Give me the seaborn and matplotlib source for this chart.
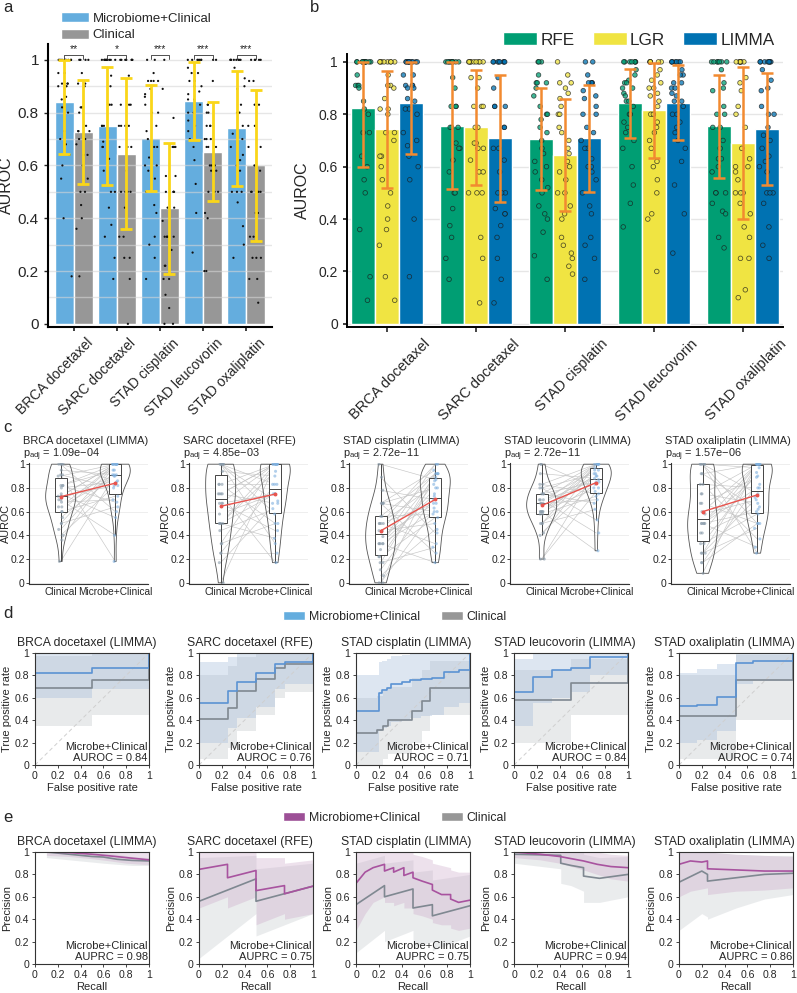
import numpy as np
import pandas as pd
import matplotlib
matplotlib.use("Agg")
import matplotlib.pyplot as plt
import seaborn as sns
from matplotlib.patches import Patch
from matplotlib.ticker import FuncFormatter
from matplotlib.transforms import ScaledTranslation

sns.set_theme(style="ticks")
plt.rcParams['font.family'] = ['Liberation Sans', 'DejaVu Sans']
plt.rcParams['mathtext.fontset'] = 'custom'
plt.rcParams['mathtext.rm'] = 'Liberation Sans'
plt.rcParams['mathtext.it'] = 'Liberation Sans:italic'
np.random.seed(3)

# ------------------------------------------------------------------ data
DRUGS = ["BRCA docetaxel", "SARC docetaxel", "STAD cisplatin", "STAD leucovorin", "STAD oxaliplatin"]
MODELS = ["Microbiome+Clinical", "Clinical"]
METHODS = ["RFE", "LGR", "LIMMA"]
SELECTED = ["LIMMA", "RFE", "LIMMA", "LIMMA", "LIMMA"]
SIG_STARS = ["**", "*", "***", "***", "***"]
C_GROUPS = ["Clinical", "Microbe+Clinical"]
PANEL_TITLES = ["BRCA docetaxel (LIMMA)", "SARC docetaxel (RFE)", "STAD cisplatin (LIMMA)",
                "STAD leucovorin (LIMMA)", "STAD oxaliplatin (LIMMA)"]
P_ADJ = ["1.09e\u221204", "4.85e\u221203", "2.72e\u221211", "2.72e\u221211", "1.57e\u221206"]
AUROC_TXT = [0.84, 0.76, 0.71, 0.84, 0.74]
AUPRC_TXT = [0.98, 0.75, 0.75, 0.94, 0.86]

# panel a summaries (mean, sd)
A_MEAN_MC = [0.840, 0.748, 0.703, 0.845, 0.741]
A_SD_MC = [0.197, 0.223, 0.200, 0.148, 0.217]
A_MEAN_CL = [0.726, 0.645, 0.438, 0.652, 0.600]
A_SD_CL = [0.197, 0.285, 0.248, 0.187, 0.285]

# panel b summaries (mean, sd)
B_MEAN_RFE = [0.825, 0.757, 0.705, 0.842, 0.754]
B_SD_RFE = [0.225, 0.242, 0.195, 0.132, 0.197]
B_MEAN_LGR = [0.743, 0.750, 0.644, 0.815, 0.690]
B_SD_LGR = [0.223, 0.220, 0.214, 0.182, 0.290]
B_MEAN_LIMMA = [0.842, 0.708, 0.708, 0.844, 0.743]
B_SD_LIMMA = [0.194, 0.243, 0.203, 0.144, 0.213]

# per-run AUROC values
BRCA_CL = [0.73, 0.5, 1, 0.64, 0.82, 0.36, 0.9, 0.6, 1, 0.73, 0.45, 0.82, 0.7, 0.18, 0.95,
           0.55, 0.64, 1, 0.8, 0.4, 0.73, 0.91, 0.6, 0.68, 0.82, 0.5, 1, 0.75, 0.7, 0.91]
BRCA_RFE = [1, 1, 1, 1, 1, 1, 1, 1, 1, 1, 1, 1, 1, 0.95, 0.91, 0.91, 0.91, 0.9, 0.85, 0.82,
            0.8, 0.73, 0.73, 0.64, 0.6, 0.55, 0.5, 0.36, 0.18, 0.09]
BRCA_LGR = [1, 1, 1, 1, 1, 1, 1, 1, 0.95, 0.91, 0.91, 0.9, 0.86, 0.82, 0.82, 0.8, 0.73, 0.73,
            0.7, 0.64, 0.64, 0.6, 0.55, 0.5, 0.45, 0.4, 0.36, 0.3, 0.18, 0.09]
BRCA_LIMMA = [1, 1, 1, 1, 1, 1, 1, 1, 1, 1, 0.95, 0.95, 0.91, 0.91, 0.91, 0.9, 0.9, 0.86, 0.85,
              0.82, 0.82, 0.8, 0.73, 0.7, 0.68, 0.64, 0.6, 0.55, 0.4, 0.18]

SARC_CL = [0.75, 1, 0.5, 0.83, 0, 1, 0.67, 0.33, 1, 0.75, 0.5, 0.94, 0.25, 1, 0.83, 0.58, 0.67,
           0.5, 1, 0.17, 0.75, 0.44, 1, 0.83, 0.33, 0.67, 0.5, 1, 0.25, 0.75]
SARC_RFE = [1, 1, 1, 1, 1, 1, 1, 1, 1, 1, 0.94, 0.9, 0.83, 0.83, 0.83, 0.75, 0.75, 0.75, 0.69,
            0.67, 0.67, 0.625, 0.58, 0.5, 0.5, 0.44, 0.375, 0.33, 0.25, 0.17]
SARC_LGR = [1, 1, 1, 1, 1, 1, 1, 1, 1, 0.94, 0.94, 0.9, 0.83, 0.83, 0.83, 0.75, 0.75, 0.69, 0.69,
            0.67, 0.67, 0.625, 0.58, 0.58, 0.5, 0.5, 0.5, 0.33, 0.25, 0.08]
SARC_LIMMA = [1, 1, 1, 1, 1, 1, 1, 1, 0.94, 0.9, 0.83, 0.83, 0.83, 0.75, 0.75, 0.67, 0.67, 0.625,
              0.58, 0.5, 0.5, 0.5, 0.44, 0.42, 0.42, 0.375, 0.33, 0.25, 0.17, 0.08]

CIS_CL = [0.5, 0.33, 0.67, 0.17, 0.44, 0, 0.56, 0.33, 1, 0.22, 0.5, 0.67, 0.28, 0.33, 0.11, 0.78,
          0.5, 0.39, 0, 0.67, 0.33, 0.56, 0.22, 0.44, 0.06, 0.89, 0.5, 0.17, 0.67, 0.33]
CIS_RFE = [1, 1, 1, 0.95, 0.92, 0.92, 0.92, 0.9, 0.87, 0.83, 0.8, 0.8, 0.78, 0.75, 0.73, 0.7,
           0.67, 0.65, 0.62, 0.6, 0.58, 0.55, 0.52, 0.5, 0.45, 0.42, 0.4, 0.35, 0.26, 0.17]
CIS_LGR = [1, 0.95, 0.92, 0.92, 0.9, 0.88, 0.86, 0.83, 0.8, 0.8, 0.75, 0.73, 0.7, 0.67, 0.65,
           0.62, 0.6, 0.58, 0.55, 0.5, 0.5, 0.45, 0.42, 0.4, 0.33, 0.3, 0.27, 0.25, 0.22, 0.19]
CIS_LIMMA = [1, 1, 0.95, 0.92, 0.92, 0.92, 0.92, 0.89, 0.87, 0.86, 0.83, 0.8, 0.8, 0.75, 0.73,
             0.7, 0.67, 0.67, 0.63, 0.6, 0.6, 0.58, 0.55, 0.5, 0.45, 0.42, 0.33, 0.3, 0.25, 0.17]

LEU_CL = [0.6, 0.75, 0.5, 1, 0.67, 0.4, 0.83, 0.6, 0.2, 0.7, 0.58, 0.8, 0.6, 0.67, 0.92, 0.5,
          0.75, 0.42, 0.7, 0.6, 1, 0.2, 0.83, 0.58, 0.67, 0.75, 0.5, 0.8, 0.7, 0.6]
LEU_RFE = [1, 1, 1, 1, 1, 1, 1, 0.97, 0.95, 0.93, 0.92, 0.92, 0.9, 0.9, 0.88, 0.87, 0.85, 0.85,
           0.83, 0.8, 0.8, 0.77, 0.75, 0.73, 0.7, 0.67, 0.6, 0.53, 0.46, 0.37]
LEU_LGR = [1, 1, 1, 1, 1, 1, 0.97, 0.95, 0.93, 0.92, 0.9, 0.9, 0.88, 0.87, 0.85, 0.83, 0.8, 0.8,
           0.77, 0.75, 0.73, 0.7, 0.67, 0.62, 0.6, 0.55, 0.5, 0.42, 0.4, 0.2]
LEU_LIMMA = [1, 1, 1, 1, 1, 1, 1, 0.97, 0.95, 0.95, 0.92, 0.92, 0.9, 0.9, 0.88, 0.87, 0.85, 0.85,
             0.83, 0.8, 0.8, 0.77, 0.75, 0.73, 0.7, 0.67, 0.62, 0.53, 0.42, 0.27]

OXA_CL = [0.5, 1, 0.25, 0.75, 0.42, 0.92, 0.08, 0.6, 1, 0.33, 0.5, 0.67, 0.17, 0.83, 0.5, 1,
          0.25, 0.58, 0.75, 0.42, 0.92, 0.5, 0.33, 1, 0.17, 0.67, 0.25, 0.83, 0.5, 1]
OXA_RFE = [1, 1, 1, 1, 1, 1, 1, 0.97, 0.92, 0.9, 0.89, 0.83, 0.8, 0.8, 0.75, 0.75, 0.7, 0.67,
           0.63, 0.63, 0.6, 0.58, 0.5, 0.5, 0.5, 0.46, 0.43, 0.42, 0.33, 0.29]
OXA_LGR = [1, 1, 1, 1, 1, 1, 1, 0.94, 0.92, 0.89, 0.83, 0.8, 0.75, 0.67, 0.63, 0.6, 0.6, 0.58,
           0.55, 0.5, 0.5, 0.5, 0.46, 0.42, 0.37, 0.33, 0.25, 0.25, 0.13, 0.1]
OXA_LIMMA = [1, 1, 1, 1, 1, 1, 1, 1, 0.97, 0.93, 0.9, 0.89, 0.83, 0.8, 0.8, 0.75, 0.72, 0.7,
             0.67, 0.64, 0.62, 0.6, 0.58, 0.5, 0.5, 0.5, 0.46, 0.37, 0.3, 0.25]

CLIN_RUNS = [BRCA_CL, SARC_CL, CIS_CL, LEU_CL, OXA_CL]
METHOD_RUNS = {
    "RFE": [BRCA_RFE, SARC_RFE, CIS_RFE, LEU_RFE, OXA_RFE],
    "LGR": [BRCA_LGR, SARC_LGR, CIS_LGR, LEU_LGR, OXA_LGR],
    "LIMMA": [BRCA_LIMMA, SARC_LIMMA, CIS_LIMMA, LEU_LIMMA, OXA_LIMMA],
}

# panel d: ROC steps (value holds from each fpr breakpoint onward)
ROC_FPR_MC = [[0, 0.5, 1], [0, 0.25, 0.33, 0.5, 0.67, 0.75, 1],
              [0, 0.2, 0.23, 0.27, 0.31, 0.4, 0.47, 0.57, 0.67, 0.77, 0.9, 1],
              [0, 0.17, 0.33, 0.5, 0.67, 1], [0, 0.16, 0.33, 0.5, 0.65, 1]]
ROC_TPR_MC = [[0.82, 0.87, 1], [0.55, 0.66, 0.74, 0.82, 0.90, 0.92, 1],
              [0.48, 0.64, 0.67, 0.69, 0.72, 0.74, 0.76, 0.77, 0.78, 0.83, 0.85, 1],
              [0.65, 0.79, 0.85, 0.87, 0.96, 1], [0.53, 0.54, 0.61, 0.91, 0.93, 1]]
ROC_LO_MC = [[0.6, 0.68, 1], [0.2, 0.33, 0.42, 0.52, 0.68, 0.72, 1],
             [0.12, 0.3, 0.33, 0.35, 0.38, 0.4, 0.42, 0.44, 0.45, 0.52, 0.55, 1],
             [0.35, 0.55, 0.6, 0.65, 0.8, 1], [0.2, 0.22, 0.3, 0.72, 0.75, 1]]
ROC_HI_MC = [[1, 1, 1], [0.92, 0.96, 1, 1, 1, 1, 1],
             [0.8, 0.92, 0.93, 0.95, 0.97, 0.98, 1, 1, 1, 1, 1, 1],
             [0.95, 1, 1, 1, 1, 1], [0.82, 0.86, 0.9, 1, 1, 1]]
ROC_FPR_CL = [[0, 0.5, 1], [0, 0.25, 0.33, 0.5, 0.67, 0.75, 1],
              [0, 0.18, 0.24, 0.28, 0.49, 0.58, 0.65, 1], [0, 0.5, 1], [0, 0.5, 1]]
ROC_TPR_CL = [[0.69, 0.76, 1], [0.41, 0.51, 0.66, 0.77, 0.87, 0.90, 1],
              [0.29, 0.31, 0.35, 0.40, 0.48, 0.57, 0.69, 1], [0.58, 0.73, 1], [0.44, 0.76, 1]]
ROC_LO_CL = [[0.35, 0.45, 1], [0.05, 0.15, 0.3, 0.45, 0.6, 0.65, 1],
             [0, 0, 0.05, 0.1, 0.2, 0.3, 0.45, 1], [0.2, 0.45, 1], [0.05, 0.4, 1]]
ROC_HI_CL = [[0.97, 1, 1], [0.8, 0.88, 0.96, 1, 1, 1, 1],
             [0.6, 0.62, 0.66, 0.7, 0.78, 0.85, 0.93, 1], [0.85, 0.95, 1], [0.8, 0.98, 1]]

# panel e: PR curves
PR_REC_MC = [[0.1, 0.3, 0.5, 0.66, 0.8, 0.95, 1.0],
             [0, 0.25, 0.25, 0.5, 0.5, 0.75, 0.75, 1.0],
             [0, 0.08, 0.15, 0.25, 0.25, 0.33, 0.33, 0.42, 0.42, 0.5, 0.5, 0.58, 0.67, 0.67, 0.75,
              0.83, 0.83, 0.9, 1.0],
             [0, 0.23, 0.4, 0.61, 0.73, 0.85, 1.0],
             [0, 0.1, 0.2, 0.25, 0.25, 0.5, 0.75, 1.0]]
PR_PREC_MC = [[1.0, 0.995, 0.98, 0.965, 0.95, 0.935, 0.93],
              [0.845, 0.89, 0.77, 0.835, 0.655, 0.70, 0.627, 0.695],
              [0.72, 0.82, 0.86, 0.89, 0.83, 0.86, 0.82, 0.86, 0.79, 0.82, 0.77, 0.74, 0.71, 0.66,
               0.62, 0.62, 0.58, 0.55, 0.57],
              [1.0, 0.98, 0.96, 0.92, 0.89, 0.87, 0.86],
              [0.89, 0.92, 0.91, 0.92, 0.85, 0.84, 0.83, 0.83]]
PR_LO_MC = [[0.97, 0.96, 0.94, 0.92, 0.9, 0.89, 0.89],
            [0.5, 0.6, 0.5, 0.6, 0.35, 0.45, 0.4, 0.45],
            [0.3, 0.45, 0.55, 0.6, 0.55, 0.55, 0.52, 0.55, 0.5, 0.5, 0.45, 0.43, 0.4, 0.37, 0.35,
             0.35, 0.32, 0.3, 0.32],
            [0.95, 0.93, 0.9, 0.84, 0.8, 0.76, 0.74],
            [0.6, 0.65, 0.67, 0.68, 0.62, 0.65, 0.66, 0.68]]
PR_HI_MC = [[1, 1, 1, 1, 1, 1, 1],
            [1, 1, 1, 1, 0.95, 0.95, 0.9, 0.93],
            [1, 1, 1, 1, 1, 1, 1, 1, 1, 1, 0.98, 0.96, 0.93, 0.9, 0.88, 0.86, 0.84, 0.82, 0.82],
            [1, 1, 1, 1, 1, 0.98, 0.97],
            [1, 1, 1, 1, 1, 0.98, 0.97, 0.96]]
PR_REC_CL = [[0.1, 0.3, 0.5, 0.6, 0.72, 0.85, 1.0],
             [0, 0.5, 0.5, 1.0],
             [0, 0.25, 0.25, 0.5, 0.5, 0.67, 0.67, 1.0],
             [0, 0.41, 0.41, 0.5, 0.61, 0.61, 0.75, 1.0],
             [0, 0.2, 0.25, 0.25, 0.5, 0.75, 1.0]]
PR_PREC_CL = [[1.0, 0.98, 0.96, 0.955, 0.935, 0.925, 0.92],
              [0.56, 0.76, 0.56, 0.695],
              [0.53, 0.70, 0.60, 0.67, 0.50, 0.53, 0.43, 0.52],
              [0.98, 0.97, 0.9, 0.88, 0.86, 0.785, 0.765, 0.80],
              [0.73, 0.83, 0.80, 0.74, 0.77, 0.80, 0.81]]
PR_LO_CL = [[0.95, 0.93, 0.91, 0.9, 0.89, 0.88, 0.88],
            [0.05, 0.45, 0.25, 0.45],
            [0.1, 0.3, 0.2, 0.3, 0.15, 0.2, 0.12, 0.25],
            [0.9, 0.85, 0.72, 0.7, 0.65, 0.55, 0.55, 0.6],
            [0.3, 0.45, 0.42, 0.4, 0.5, 0.58, 0.62]]
PR_HI_CL = [[1, 1, 1, 0.99, 0.98, 0.96, 0.95],
            [0.95, 0.97, 0.85, 0.9],
            [0.9, 0.97, 0.9, 0.93, 0.82, 0.84, 0.75, 0.8],
            [1, 1, 1, 1, 1, 0.98, 0.95, 0.96],
            [1, 1, 1, 1, 0.98, 0.97, 0.97]]

# ------------------------------------------------------------------ style
C_MC = "#64ADDE"
C_CL = "#979797"
C_ERR_A = "#FAD619"
C_METH = ["#009E73", "#F0E442", "#0072B2"]
C_ERR_B = "#F28A30"
C_ROC_MC = "#5B93D3"
C_LINE_CL = "#7F8891"
C_PR_MC = "#A8539F"
C_PR_LEG = "#9C4F96"

W, H = 797, 993
fig = plt.figure(figsize=(W / 100, H / 100), dpi=100)


def px_axes(x0, y0, x1, y1):
    return fig.add_axes([x0 / W, 1 - y1 / H, (x1 - x0) / W, (y1 - y0) / H])


def shift_labels(ax, dx_px):
    for lbl in ax.get_xticklabels():
        lbl.set_transform(lbl.get_transform() + ScaledTranslation(dx_px / 100, 0, fig.dpi_scale_trans))


fmt = FuncFormatter(lambda v, p: f"{v:g}")
TICKS = [0, 0.2, 0.4, 0.6, 0.8, 1.0]

# ------------------------------------------------------------------ panel a
axA = px_axes(48, 44, 272, 327)
dfA = pd.DataFrame({"drug": DRUGS * 2,
                    "model": [MODELS[0]] * 5 + [MODELS[1]] * 5,
                    "auroc": A_MEAN_MC + A_MEAN_CL})
sns.barplot(data=dfA, x="drug", y="auroc", hue="model", order=DRUGS, hue_order=MODELS,
            palette=[C_MC, C_CL], width=0.88, errorbar=None, saturation=1, legend=False,
            ax=axA, zorder=1)
rows = []
for i, d in enumerate(DRUGS):
    for v in METHOD_RUNS[SELECTED[i]][i]:
        rows.append((d, MODELS[0], v))
    for v in CLIN_RUNS[i]:
        rows.append((d, MODELS[1], v))
dfAp = pd.DataFrame(rows, columns=["drug", "model", "auroc"])
sns.stripplot(data=dfAp, x="drug", y="auroc", hue="model", order=DRUGS, hue_order=MODELS,
              dodge=True, jitter=0.34, palette=["#111111", "#111111"], size=1.6, legend=False,
              ax=axA, zorder=3)
for v in np.arange(0.1, 1.01, 0.1):
    axA.axhline(v, color="#d6d6d6", lw=1.0, alpha=0.6, zorder=1.5)
centers = []
for h, (means, sds) in enumerate([(A_MEAN_MC, A_SD_MC), (A_MEAN_CL, A_SD_CL)]):
    cs = []
    for bar, m, s in zip(axA.containers[h], means, sds):
        xc = bar.get_x() + bar.get_width() / 2
        cs.append(xc)
        lo, hi = max(0, m - s), min(1, m + s)
        axA.errorbar(xc, m, yerr=[[m - lo], [hi - m]], color=C_ERR_A, capsize=4,
                     elinewidth=2.0, capthick=2.0, zorder=5)
    centers.append(cs)
for i in range(5):
    x0, x1 = centers[0][i], centers[1][i]
    axA.plot([x0, x0, x1, x1], [1.005, 1.02, 1.02, 1.005], color="#333333", lw=0.6,
             clip_on=False, zorder=6)
    axA.text((x0 + x1) / 2, 1.022, SIG_STARS[i], ha="center", va="bottom", fontsize=7.5)
axA.set_xlim(-0.6, 4.6)
axA.set_ylim(-0.012, 1.06)
axA.set_yticks(TICKS)
axA.yaxis.set_major_formatter(fmt)
axA.tick_params(axis="y", labelsize=11, length=3, width=1)
axA.tick_params(axis="x", labelsize=10, length=3)
axA.set_xticks(range(5))
axA.set_xticklabels(DRUGS, rotation=45, ha="right", va="top", rotation_mode="anchor")
shift_labels(axA, 12)
axA.set_xlabel("")
axA.set_ylabel("AUROC", fontsize=11.5)
axA.yaxis.set_label_coords(-0.15, 0.5)
for s in ["top", "right"]:
    axA.spines[s].set_visible(False)
for s in ["left", "bottom"]:
    axA.spines[s].set_linewidth(1.5)
    axA.spines[s].set_color("black")
fig.legend(handles=[Patch(fc=C_MC), Patch(fc=C_CL)], labels=MODELS, loc="upper left",
           bbox_to_anchor=(61 / W, 1 - 12 / H), frameon=False, fontsize=9.5,
           handlelength=2.1, handleheight=0.8, handletextpad=0.3, labelspacing=0.3,
           borderpad=0, borderaxespad=0)

# ------------------------------------------------------------------ panel b
axB = px_axes(347, 54, 783, 327)
dfB = pd.DataFrame({"drug": DRUGS * 3,
                    "method": [m for m in METHODS for _ in DRUGS],
                    "auroc": B_MEAN_RFE + B_MEAN_LGR + B_MEAN_LIMMA})
for v in TICKS:
    axB.axhline(v, color="#e6e6e6", lw=1.0, zorder=0)
sns.barplot(data=dfB, x="drug", y="auroc", hue="method", order=DRUGS, hue_order=METHODS,
            palette=C_METH, width=0.8, errorbar=None, saturation=1, legend=False, ax=axB,
            zorder=1)
rows = []
for m in METHODS:
    for i, d in enumerate(DRUGS):
        for v in METHOD_RUNS[m][i]:
            rows.append((d, m, v))
dfBp = pd.DataFrame(rows, columns=["drug", "method", "auroc"])
sns.stripplot(data=dfBp, x="drug", y="auroc", hue="method", order=DRUGS, hue_order=METHODS,
              dodge=True, jitter=0.26, palette=C_METH, size=3.3, edgecolor="#1a1a1a",
              linewidth=0.55, alpha=0.75, legend=False, ax=axB, zorder=3)
for h, (means, sds) in enumerate([(B_MEAN_RFE, B_SD_RFE), (B_MEAN_LGR, B_SD_LGR),
                                  (B_MEAN_LIMMA, B_SD_LIMMA)]):
    for bar, m, s in zip(axB.containers[h], means, sds):
        xc = bar.get_x() + bar.get_width() / 2
        lo, hi = max(0, m - s), min(1, m + s)
        axB.errorbar(xc, m, yerr=[[m - lo], [hi - m]], color=C_ERR_B, capsize=4,
                     elinewidth=1.8, capthick=1.8, zorder=5)
axB.set_xlim(-0.45, 4.45)
axB.set_ylim(-0.012, 1.03)
axB.set_yticks(TICKS)
axB.yaxis.set_major_formatter(fmt)
axB.tick_params(axis="y", labelsize=10, length=3)
axB.tick_params(axis="x", labelsize=10.5, length=3.5, width=1.2)
axB.set_xticks(range(5))
axB.set_xticklabels(DRUGS, rotation=45, ha="right", va="top", rotation_mode="anchor")
shift_labels(axB, 36)
axB.set_xlabel("")
axB.set_ylabel("AUROC", fontsize=11.5)
axB.yaxis.set_label_coords(-0.085, 0.5)
for s in ["top", "right"]:
    axB.spines[s].set_visible(False)
for s in ["left", "bottom"]:
    axB.spines[s].set_linewidth(1.4)
    axB.spines[s].set_color("black")
fig.legend(handles=[Patch(fc=c) for c in C_METH], labels=METHODS, ncol=3, loc="center right",
           bbox_to_anchor=(775 / W, 1 - 40 / H), frameon=False, fontsize=12.3,
           handlelength=2.0, handleheight=0.75, handletextpad=0.2, columnspacing=1.05,
           borderpad=0, borderaxespad=0)

# ------------------------------------------------------------------ panel c
C_X = [29, 189, 349, 510, 671]
C_W = 119
for i in range(5):
    ax = px_axes(C_X[i], 463, C_X[i] + C_W, 584)
    cl = CLIN_RUNS[i]
    mc = METHOD_RUNS[SELECTED[i]][i]
    dfc = pd.DataFrame({"group": [C_GROUPS[0]] * len(cl) + [C_GROUPS[1]] * len(mc),
                        "auroc": cl + mc})
    for v in TICKS:
        ax.axhline(v, color="#ebebeb", lw=0.6, zorder=0)
    for a, b in zip(cl, mc):
        ax.plot([0, 1], [a, b], color="#c6c6c6", lw=0.45, zorder=1)
    sns.violinplot(data=dfc, x="group", y="auroc", order=C_GROUPS, cut=0, inner=None,
                   fill=False, color="#555555", linewidth=0.6, density_norm="width",
                   width=0.55, bw_adjust=0.9, ax=ax)
    sns.boxplot(data=dfc, x="group", y="auroc", order=C_GROUPS, width=0.22, color="white",
                linecolor="#444444", linewidth=0.7, showcaps=False, showfliers=False,
                saturation=1, ax=ax)
    sns.stripplot(data=dfc, x="group", y="auroc", hue="group", order=C_GROUPS,
                  hue_order=C_GROUPS, palette=["#8a9cab", "#7fb0df"], jitter=0.05, size=2.2,
                  alpha=0.6, legend=False, ax=ax, zorder=4)
    ax.plot([0, 1], [A_MEAN_CL[i], A_MEAN_MC[i]], color="#E8544E", lw=1.0, marker="o", ms=1.8,
            zorder=6)
    ax.set_xlim(-0.58, 1.6)
    ax.set_ylim(-0.01, 1.01)
    ax.set_yticks(TICKS)
    ax.yaxis.set_major_formatter(fmt)
    ax.tick_params(axis="y", labelsize=7.5, length=2, width=0.6, pad=1)
    ax.tick_params(axis="x", labelsize=7.3, length=0, pad=2)
    ax.set_xlabel("")
    ax.set_ylabel("AUROC", fontsize=7.8)
    ax.yaxis.set_label_coords(-0.15, 0.5)
    for s in ["top", "right"]:
        ax.spines[s].set_visible(False)
    for s in ["left", "bottom"]:
        ax.spines[s].set_linewidth(0.8)
        ax.spines[s].set_color("#333333")
    ax.set_title(PANEL_TITLES[i] + "\np$_{\\mathregular{adj}}$ = " + P_ADJ[i], loc="left",
                 fontsize=7.9, pad=2, linespacing=1.05, x=-0.05)

# ------------------------------------------------------------------ panels d and e
COL_X = [35, 199, 356, 514, 679]
COL_W = 114
TITLE_X = [0.45, 0.45, 0.44, 0.45, 0.40]


def frame(ax, xlabel, ylabel, i):
    ax.set_xlim(0, 1)
    ax.set_ylim(0, 1)
    ax.set_xticks(TICKS)
    ax.set_yticks(TICKS)
    ax.xaxis.set_major_formatter(fmt)
    ax.yaxis.set_major_formatter(fmt)
    ax.tick_params(labelsize=7.6, length=2.5, width=0.6, pad=1.5)
    for s in ax.spines.values():
        s.set_linewidth(0.8)
        s.set_color("#333333")
    ax.set_xlabel(xlabel, fontsize=8, labelpad=2)
    ax.set_ylabel(ylabel, fontsize=8, labelpad=2)
    ax.set_title(PANEL_TITLES[i], fontsize=8.8, pad=5, x=TITLE_X[i])


for i in range(5):
    ax = px_axes(COL_X[i], 653, COL_X[i] + COL_W, 765)
    ax.fill_between(ROC_FPR_CL[i], ROC_LO_CL[i], ROC_HI_CL[i], step="post", color="#b5bac0",
                    alpha=0.3, lw=0)
    ax.fill_between(ROC_FPR_MC[i], ROC_LO_MC[i], ROC_HI_MC[i], step="post", color="#9fb9d9",
                    alpha=0.35, lw=0)
    ax.plot([0, 1], [0, 1], ls=(0, (4, 3)), color="#cfcfcf", lw=0.7)
    sns.lineplot(x=[0] + ROC_FPR_CL[i], y=[0] + ROC_TPR_CL[i], sort=False, estimator=None,
                 drawstyle="steps-post", color=C_LINE_CL, lw=1.2, ax=ax)
    sns.lineplot(x=[0] + ROC_FPR_MC[i], y=[0] + ROC_TPR_MC[i], sort=False, estimator=None,
                 drawstyle="steps-post", color=C_ROC_MC, lw=1.2, ax=ax)
    frame(ax, "False positive rate", "True positive rate", i)
    ax.text(0.99, 0.02, f"Microbe+Clinical\nAUROC = {AUROC_TXT[i]:.2f}", transform=ax.transAxes,
            ha="right", va="bottom", fontsize=8, linespacing=1.05)

for i in range(5):
    ax = px_axes(COL_X[i], 852, COL_X[i] + COL_W, 964)
    ax.fill_between(PR_REC_CL[i], PR_LO_CL[i], PR_HI_CL[i], color="#bcc1c6", alpha=0.3, lw=0)
    ax.fill_between(PR_REC_MC[i], PR_LO_MC[i], PR_HI_MC[i], color="#c9a3c6", alpha=0.32, lw=0)
    sns.lineplot(x=PR_REC_CL[i], y=PR_PREC_CL[i], sort=False, estimator=None,
                 color=C_LINE_CL, lw=1.2, ax=ax)
    sns.lineplot(x=PR_REC_MC[i], y=PR_PREC_MC[i], sort=False, estimator=None,
                 color=C_PR_MC, lw=1.2, ax=ax)
    frame(ax, "Recall", "Precision", i)
    ax.text(0.99, 0.02, f"Microbe+Clinical\nAUPRC = {AUPRC_TXT[i]:.2f}", transform=ax.transAxes,
            ha="right", va="bottom", fontsize=8, linespacing=1.05)

for y, c in [(617, C_MC), (818, C_PR_LEG)]:
    fig.legend(handles=[Patch(fc=c), Patch(fc=C_CL)], labels=MODELS, ncol=2, loc="center",
               bbox_to_anchor=(395 / W, 1 - y / H), frameon=False, fontsize=8.8,
               handlelength=1.8, handleheight=0.7, handletextpad=0.3, columnspacing=1.7,
               borderpad=0, borderaxespad=0)

# panel letters
for lab, x, y in [("a", 3, 8), ("b", 310, 8), ("c", 3, 427), ("d", 3, 613), ("e", 3, 817)]:
    fig.text(x / W, 1 - y / H, lab, fontsize=12, va="center", ha="left")

fig.savefig("out.png", dpi=100)
